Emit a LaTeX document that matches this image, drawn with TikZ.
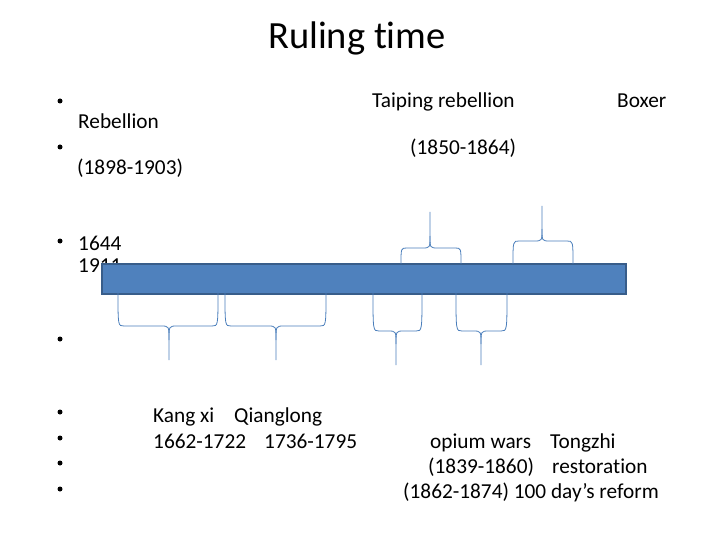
\documentclass[tikz,border=0pt]{standalone}
\usepackage{fontspec}
\setmainfont{Carlito}[RawFeature={-liga}]
\definecolor{barfill}{HTML}{4F81BD}
\definecolor{barline}{HTML}{385D8A}
\definecolor{brc}{HTML}{4A7EBB}
\newcommand\rcbrace[7]{%
  \draw[bracestyle] (#1,#4) .. controls (#1,#5) and (#1,#5) .. ({#1+6},#5) -- ({#2-8},#5)
     .. controls (#2,#5) and (#2,#5) .. (#2,#6) -- (#2,#7);
  \draw[bracestyle] (#3,#4) .. controls (#3,#5) and (#3,#5) .. ({#3-6},#5) -- ({#2+8},#5)
     .. controls (#2,#5) and (#2,#5) .. (#2,#6);
}
\begin{document}
\begin{tikzpicture}[x=1pt,y=-1pt,
  txt/.style={anchor=base west, inner sep=0pt, font=\fontsize{21.3}{25}\selectfont},
  ttl/.style={anchor=base west, inner sep=0pt, font=\fontsize{38.5}{44}\selectfont},
  bul/.style={circle, fill=black, inner sep=0pt, minimum size=5pt},
  bracestyle/.style={draw=brc, line width=0.8pt},
  barstyle/.style={draw=barline, fill=barfill, line width=1.6pt, inner sep=0pt}]
\useasboundingbox (0,0) rectangle (720,540);
% title
\node[ttl] (title) at (268,49) {Ruling time};
% bullets
\foreach \y [count=\i] in {101,147,241,339,412,438,463,489}
  \node[bul] (b\i) at (60,\y) {};
% top texts
\node[txt] (taiping) at (372,108) {Taiping rebellion};
\node[txt] (boxer) at (617,108) {Boxer};
\node[txt] (reb) at (78,129) {Rebellion};
\node[txt] (tpyears) at (410,155) {(1850-1864)};
\node[txt] (bxyears) at (77,175) {(1898-1903)};
\node[txt] (y1644) at (78,250) {1644};
\node[txt] (y1911) at (78,272) {1911};
% bar
\node[barstyle, minimum width=524pt, minimum height=30pt, anchor=north west] (bar) at (101,263) {};
% braces below
\rcbrace{118}{169}{218}{292}{326}{340}{360}
\rcbrace{225}{276}{326}{292}{326}{340}{360}
\rcbrace{373}{396}{422}{292}{331}{344}{365}
\rcbrace{456}{481}{507}{292}{331}{344}{365}
% braces above
\rcbrace{401}{430}{461}{264}{248}{236}{212}
\rcbrace{513}{542}{573}{264}{241}{229}{206}
% bottom texts
\node[txt] (kang) at (153,422) {Kang xi};
\node[txt] (qian) at (234,422) {Qianglong};
\node[txt] (kangy) at (153,448) {1662-1722};
\node[txt] (qiany) at (264,448) {1736-1795};
\node[txt] (opium) at (430,448) {opium wars};
\node[txt] (tong) at (550,448) {Tongzhi};
\node[txt] (opy) at (428,473) {(1839-1860)};
\node[txt] (rest) at (552,473) {restoration};
\node[txt] (last) at (403,498) {(1862-1874) 100 day’s reform};
\end{tikzpicture}
\end{document}
